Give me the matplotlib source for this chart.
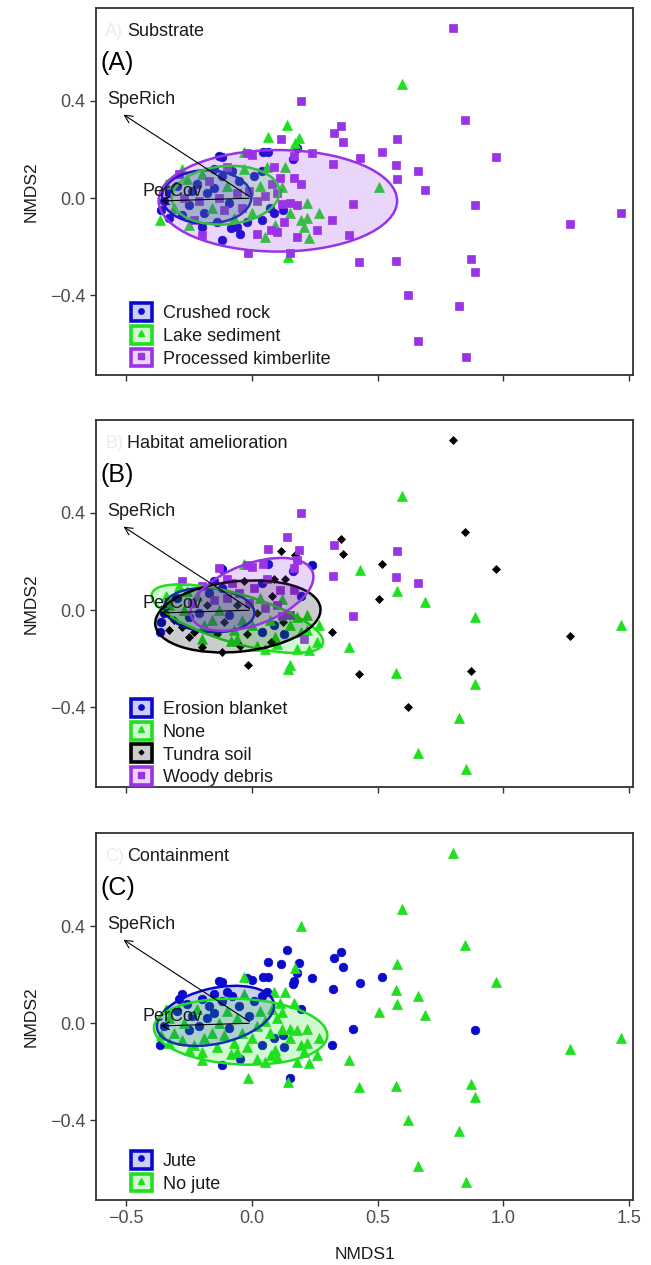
import matplotlib.pyplot as plt
from matplotlib.patches import Ellipse, Patch
from matplotlib.lines import Line2D
from matplotlib.colors import to_rgba

plt.rcParams['font.family'] = ['Liberation Sans', 'DejaVu Sans']

# NMDS site scores, with the treatment of each plot
nmds1 = [0.80, 0.595, 0.845, 0.352, 0.328, 0.362, 0.575, 0.516, 0.972, 0.43,
         0.321, 0.571, 0.66, 0.578, 0.506, 0.687, 0.40, 0.886, 1.468, 1.266,
         0.317, 0.387, 0.425, 0.572, 0.872, 0.885, 0.62, 0.824, 0.66, 0.85,
         0.195, 0.14, 0.065, 0.115, 0.185, 0.24, 0.168, 0.133, -0.015, 0.153,
         0.145, 0.266, 0.259, 0.205, 0.195, 0.127, -0.365, -0.2, -0.118, 0.123,
         -0.13, -0.12, -0.02, 0.045, 0.065, 0.18, 0.165, -0.033, 0.173, 0.22,
         0.193, 0.226, 0.113, 0.166, 0.12, 0.153, 0.074, 0.021, -0.046, -0.085,
         0.087, 0.087, 0.0, 0.12,
         -0.35, -0.33, -0.31, -0.30, -0.28, -0.27, -0.26, -0.25, -0.24, -0.23,
         -0.22, -0.21, -0.20, -0.19, -0.18, -0.17, -0.16, -0.15, -0.14, -0.13,
         -0.12, -0.11, -0.10, -0.09, -0.08, -0.07, -0.06, -0.05, -0.04, -0.03,
         -0.02, -0.01, 0.00, 0.01, 0.02, 0.03, 0.04, 0.05, 0.06, 0.07,
         0.08, 0.09, 0.10, -0.36, -0.34, -0.29, -0.25, -0.20, -0.15, -0.10,
         -0.33, 0.04, -0.28, -0.06, 0.15, 0.18, 0.22, 0.10, 0.05, 0.18]
nmds2 = [0.70, 0.47, 0.32, 0.295, 0.268, 0.23, 0.245, 0.19, 0.168, 0.166,
         0.142, 0.137, 0.11, 0.08, 0.047, 0.035, -0.025, -0.028, -0.063, -0.108,
         -0.088, -0.152, -0.262, -0.26, -0.25, -0.305, -0.398, -0.445, -0.59, -0.655,
         0.40, 0.30, 0.25, 0.245, 0.248, 0.185, 0.175, 0.13, -0.225, -0.225,
         -0.242, -0.062, -0.13, -0.12, 0.058, -0.097, -0.088, -0.152, -0.172, -0.05,
         0.174, 0.168, 0.184, 0.19, 0.19, 0.205, 0.16, 0.19, 0.226, -0.022,
         -0.091, -0.166, 0.081, 0.081, 0.047, -0.022, -0.132, -0.146, -0.146, -0.125,
         -0.063, 0.129, 0.177, -0.026,
         -0.01, 0.02, -0.04, 0.05, -0.07, 0.00, 0.08, -0.03, 0.03, -0.09,
         0.06, -0.01, 0.10, -0.06, 0.02, 0.07, -0.04, 0.04, -0.10, 0.00,
         0.09, -0.05, 0.05, -0.02, 0.11, -0.08, 0.02, 0.07, -0.04, 0.12,
         -0.10, 0.03, -0.06, 0.09, -0.01, 0.05, -0.09, 0.01, 0.13, -0.04,
         0.06, -0.11, 0.02, -0.05, 0.06, 0.10, -0.11, -0.12, 0.12, 0.13,
         -0.08, 0.11, 0.12, -0.12, -0.06, -0.03, -0.08, -0.14, -0.16, -0.16]
substrate = ["P", "L", "P", "P", "P", "P", "P", "P", "P", "P",
             "P", "P", "P", "P", "L", "P", "P", "P", "P", "P",
             "P", "P", "P", "P", "P", "P", "P", "P", "P", "P",
             "P", "L", "L", "P", "L", "P", "P", "L", "P", "P",
             "L", "L", "P", "L", "P", "P", "L", "P", "C", "C",
             "C", "C", "P", "C", "C", "C", "C", "L", "L", "L",
             "L", "L", "P", "P", "L", "P", "P", "P", "C", "C",
             "C", "P", "P", "P",
             "C", "C", "L", "C", "C", "P", "L", "C", "C", "P",
             "C", "P", "L", "C", "C", "P", "L", "C", "C", "P",
             "C", "P", "L", "C", "C", "L", "P", "C", "P", "L",
             "C", "P", "L", "C", "P", "L", "C", "P", "L", "C",
             "P", "L", "P", "C", "L", "P", "L", "C", "C", "P",
             "C", "C", "L", "C", "L", "P", "L", "P", "L", "P"]
habitat = ["T", "N", "T", "T", "W", "T", "W", "T", "T", "N",
           "W", "W", "W", "N", "T", "N", "W", "N", "N", "T",
           "T", "N", "T", "N", "T", "N", "T", "N", "N", "N",
           "W", "W", "W", "T", "W", "E", "W", "T", "T", "N",
           "N", "N", "N", "W", "E", "E", "E", "T", "T", "T",
           "W", "E", "W", "W", "E", "W", "E", "N", "T", "N",
           "N", "N", "W", "W", "N", "W", "T", "N", "T", "N",
           "E", "T", "W", "W",
           "E", "N", "T", "E", "T", "N", "N", "E", "W", "T",
           "N", "E", "W", "N", "T", "E", "N", "W", "T", "N",
           "E", "T", "W", "E", "W", "N", "T", "W", "N", "T",
           "T", "W", "N", "W", "T", "N", "E", "W", "W", "N",
           "T", "N", "W", "E", "N", "N", "T", "N", "E", "W",
           "T", "E", "W", "N", "N", "N", "N", "N", "N", "N"]
containment = ["N", "N", "N", "J", "J", "J", "N", "J", "N", "J",
               "J", "N", "N", "N", "N", "N", "J", "J", "N", "N",
               "J", "N", "N", "N", "N", "N", "N", "N", "N", "N",
               "N", "J", "J", "J", "J", "J", "J", "N", "N", "J",
               "N", "N", "N", "N", "J", "J", "J", "N", "J", "J",
               "J", "J", "J", "J", "J", "J", "J", "N", "N", "N",
               "N", "N", "N", "N", "N", "N", "N", "N", "J", "N",
               "J", "N", "J", "N",
               "J", "N", "N", "J", "N", "N", "J", "J", "J", "N",
               "N", "J", "J", "N", "J", "J", "N", "J", "N", "N",
               "J", "N", "N", "J", "J", "N", "N", "J", "N", "N",
               "N", "J", "N", "J", "N", "N", "J", "N", "J", "N",
               "N", "N", "N", "N", "N", "J", "N", "N", "J", "J",
               "N", "J", "J", "N", "N", "N", "N", "N", "N", "N"]

# fitted environmental vectors
vec_names = ["SpeRich", "PerCov"]
vec_x = [-0.52, -0.375]
vec_y = [0.35, -0.012]
vec_lab_x = [-0.44, -0.315]
vec_lab_y = [0.408, 0.027]

# group ellipses (centre, semi-axes, rotation in degrees)
sub_ell_cx = [-0.18, -0.105, 0.103]
sub_ell_cy = [0.005, 0.012, -0.011]
sub_ell_a = [0.178, 0.215, 0.474]
sub_ell_b = [0.11, 0.12, 0.209]
sub_ell_ang = [0, 5, 0]

hab_ell_cx = [-0.17, -0.058, -0.056, 0.0]
hab_ell_cy = [0.0, -0.035, -0.026, 0.065]
hab_ell_a = [0.18, 0.355, 0.33, 0.258]
hab_ell_b = [0.09, 0.10, 0.145, 0.125]
hab_ell_ang = [-5, -17, 6, 21.6]

con_ell_cx = [-0.145, -0.045]
con_ell_cy = [0.03, -0.035]
con_ell_a = [0.238, 0.345]
con_ell_b = [0.114, 0.135]
con_ell_ang = [13.4, -3]

BLUE = "#0a0acd"
GREEN = "#1fe01f"
BLACK = "#000000"
PURPLE = "#9a32e6"

styles = {
    "blue": (BLUE, "o", 6.2),
    "green": (GREEN, "^", 6.8),
    "black": (BLACK, "D", 3.8),
    "purple": (PURPLE, "s", 6.2),
}

panels = [
    dict(title="Substrate", tag="(A)", ghost="A)", groups=substrate,
         levels=["C", "L", "P"],
         labels=["Crushed rock", "Lake sediment", "Processed kimberlite"],
         looks=["blue", "green", "purple"],
         ell=(sub_ell_cx, sub_ell_cy, sub_ell_a, sub_ell_b, sub_ell_ang),
         leg_y=0.02),
    dict(title="Habitat amelioration", tag="(B)", ghost="B)", groups=habitat,
         levels=["E", "N", "T", "W"],
         labels=["Erosion blanket", "None", "Tundra soil", "Woody debris"],
         looks=["blue", "green", "black", "purple"],
         ell=(hab_ell_cx, hab_ell_cy, hab_ell_a, hab_ell_b, hab_ell_ang),
         leg_y=0.002),
    dict(title="Containment", tag="(C)", ghost="C)", groups=containment,
         levels=["J", "N"],
         labels=["Jute", "No jute"],
         looks=["blue", "green"],
         ell=(con_ell_cx, con_ell_cy, con_ell_a, con_ell_b, con_ell_ang),
         leg_y=0.02),
]


def light(c, a=0.2):
    r, g, b, _ = to_rgba(c)
    return (1 - a + a * r, 1 - a + a * g, 1 - a + a * b)


fig = plt.figure(figsize=(6.51, 12.65), dpi=100)
bottoms = [0.7036, 0.3779, 0.0514]

for i, p in enumerate(panels):
    ax = fig.add_axes([0.1475, bottoms[i], 0.8249, 0.2901])

    handles = []
    for lev, look in zip(p["levels"], p["looks"]):
        col, mk, ms = styles[look]
        xs = [x for x, g in zip(nmds1, p["groups"]) if g == lev]
        ys = [y for y, g in zip(nmds2, p["groups"]) if g == lev]
        ax.plot(xs, ys, ls="none", marker=mk, ms=ms, color=col, mec=col,
                mew=0.5, zorder=2)
        handles.append((Patch(facecolor=light(col), edgecolor=col, lw=2.6),
                        Line2D([], [], ls="none", marker=mk, color=col,
                               ms=ms * 0.62)))

    cx, cy, ea, eb, ang = p["ell"]
    for k, look in enumerate(p["looks"]):
        col = styles[look][0]
        ax.add_patch(Ellipse((cx[k], cy[k]), 2 * ea[k], 2 * eb[k], angle=ang[k],
                             facecolor=to_rgba(col, 0.2), edgecolor="none",
                             zorder=3))
        ax.add_patch(Ellipse((cx[k], cy[k]), 2 * ea[k], 2 * eb[k], angle=ang[k],
                             facecolor="none", edgecolor=col, lw=1.8, zorder=3))

    for name, vx, vy, lx, ly in zip(vec_names, vec_x, vec_y, vec_lab_x, vec_lab_y):
        ax.annotate("", xy=(vx, vy), xytext=(0, 0),
                    arrowprops=dict(arrowstyle="->", lw=0.8, color="black",
                                    mutation_scale=14), zorder=5)
        ax.text(lx, ly, name, ha="center", va="center", fontsize=13,
                color="#1a1a1a", zorder=6)

    ax.text(0.017, 0.937, p["ghost"], transform=ax.transAxes, fontsize=13,
            color="#ececec", va="center")
    ax.text(0.058, 0.937, p["title"], transform=ax.transAxes, fontsize=13,
            color="#1a1a1a", va="center")
    ax.text(0.008, 0.85, p["tag"], transform=ax.transAxes, fontsize=18,
            color="black", va="center")

    ax.legend(handles, p["labels"], loc="lower left",
              bbox_to_anchor=(0.065, p["leg_y"]), borderaxespad=0, borderpad=0,
              frameon=False, fontsize=13, handlelength=1.15, handleheight=1.15,
              handletextpad=0.6, labelspacing=0.2, labelcolor="#1a1a1a")

    ax.set_xlim(-0.62, 1.515)
    ax.set_ylim(-0.728, 0.783)
    ax.set_xticks([-0.5, 0.0, 0.5, 1.0, 1.5])
    ax.set_yticks([-0.4, 0.0, 0.4])
    ax.tick_params(labelsize=13, color="#333333", labelcolor="#4d4d4d",
                   length=4, width=1)
    for s in ax.spines.values():
        s.set_color("#333333")
        s.set_linewidth(1.3)
    ax.set_ylabel("NMDS2", fontsize=12.5, color="#1a1a1a", labelpad=8)
    if i < 2:
        ax.tick_params(labelbottom=False)
    else:
        ax.set_xlabel("NMDS1", fontsize=12.5, color="#1a1a1a", labelpad=14)

fig.savefig("out.png", dpi=100)
